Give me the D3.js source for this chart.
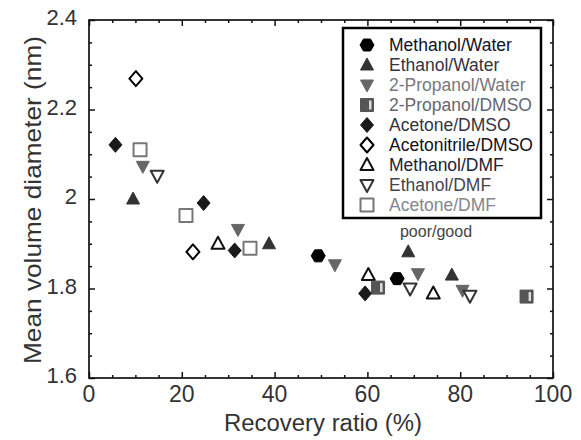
<!DOCTYPE html>
<html lang="en">
<head>
  <meta charset="UTF-8">
  <title>Mean volume diameter vs recovery ratio</title>
  <script src="https://d3js.org/d3.v7.min.js"></script>
  <style>
    body
    {
      margin: 0;
      padding: 0;
      background-color: #fff;
    }

    svg
    {
      display: block;
      font-family: Arial, "Liberation Sans", sans-serif;
    }
  </style>
</head>
<body>
  <svg width="581" height="440"></svg>
  <script>
    // legend order
    const seriesNames = ["Methanol/Water", "Ethanol/Water", "2-Propanol/Water", "2-Propanol/DMSO",
      "Acetone/DMSO", "Acetonitrile/DMSO", "Methanol/DMF", "Ethanol/DMF", "Acetone/DMF"];

    // [recovery ratio %, mean volume diameter nm]
    const methanolWater = [[49.4, 1.873], [66.4, 1.822]];
    const ethanolWater = [[9.5, 2.0], [38.8, 1.90], [68.8, 1.882], [78.2, 1.830]];
    const propanolWater = [[11.6, 2.073], [32.1, 1.932], [53.0, 1.853], [70.9, 1.833], [80.5, 1.796]];
    const propanolDmso = [[62.3, 1.802], [94.3, 1.782]];
    const acetoneDmso = [[5.7, 2.121], [24.7, 1.991], [31.4, 1.885], [59.5, 1.789]];
    const acetonitrileDmso = [[10.1, 2.269], [22.4, 1.882]];
    const methanolDmf = [[27.8, 1.90], [60.2, 1.830], [74.2, 1.789]];
    const ethanolDmf = [[14.7, 2.052], [69.2, 1.80], [82.1, 1.784]];
    const acetoneDmf = [[11.0, 2.110], [20.9, 1.963], [34.7, 1.890]];

    const xTicks = [0, 20, 40, 60, 80, 100];
    const yTicks = [1.6, 1.8, 2.0, 2.2, 2.4];
    const yTickLabels = ["1.6", "1.8", "2", "2.2", "2.4"];

    const series = [
      { name: "Acetone/DMF", data: acetoneDmf, shape: "square", color: "#777", open: true, text: "#858590" },
      { name: "Methanol/DMF", data: methanolDmf, shape: "up", color: "#111", open: true, text: "#222233" },
      { name: "2-Propanol/DMSO", data: propanolDmso, shape: "stripe", color: "#555", open: false, text: "#666670" },
      { name: "Acetone/DMSO", data: acetoneDmso, shape: "diamond", color: "#1a1a1a", open: false, text: "#333340" },
      { name: "Methanol/Water", data: methanolWater, shape: "hex", color: "#000", open: false, text: "#111122" },
      { name: "2-Propanol/Water", data: propanolWater, shape: "down", color: "#666", open: false, text: "#77777f" },
      { name: "Ethanol/Water", data: ethanolWater, shape: "up", color: "#333", open: false, text: "#333340" },
      { name: "Acetonitrile/DMSO", data: acetonitrileDmso, shape: "diamond", color: "#000", open: true, text: "#111118" },
      { name: "Ethanol/DMF", data: ethanolDmf, shape: "down", color: "#333", open: true, text: "#44444f" }
    ];

    const svg = d3.select("svg");
    const plotLeft = 89, plotRight = 553, plotTop = 20, plotBottom = 378;

    const x = d3.scaleLinear().domain([0, 100]).range([plotLeft, plotRight]);
    const y = d3.scaleLinear().domain([1.6, 2.4]).range([plotBottom, plotTop]);

    function shapePath(shape, cx, cy) {
      const p = d3.path();
      if (shape === "up") {
        p.moveTo(cx, cy - 7); p.lineTo(cx + 6.5, cy + 5); p.lineTo(cx - 6.5, cy + 5); p.closePath();
      } else if (shape === "down") {
        p.moveTo(cx - 6.5, cy - 5); p.lineTo(cx + 6.5, cy - 5); p.lineTo(cx, cy + 7); p.closePath();
      } else if (shape === "diamond") {
        p.moveTo(cx, cy - 7.5); p.lineTo(cx + 6.5, cy); p.lineTo(cx, cy + 7.5); p.lineTo(cx - 6.5, cy); p.closePath();
      } else if (shape === "hex") {
        p.moveTo(cx - 7, cy); p.lineTo(cx - 3.5, cy - 6); p.lineTo(cx + 3.5, cy - 6);
        p.lineTo(cx + 7, cy); p.lineTo(cx + 3.5, cy + 6); p.lineTo(cx - 3.5, cy + 6); p.closePath();
      } else {
        p.rect(cx - 6.5, cy - 6.5, 13, 13);
      }
      return p.toString();
    }

    function drawMarker(g, s, cx, cy) {
      g.append("path")
        .attr("d", shapePath(s.shape, cx, cy))
        .attr("fill", s.open ? "#fff" : s.color)
        .attr("stroke", s.color)
        .attr("stroke-width", s.open ? 2 : 1)
        .attr("stroke-linejoin", "round");
      if (s.shape === "stripe") {
        g.append("rect")
          .attr("x", cx + 2).attr("y", cy - 4.5)
          .attr("width", 2.5).attr("height", 9)
          .attr("fill", "#ddd");
      }
    }

    // frame ticks, all pointing inward
    const minorX = d3.range(0, 101, 5).filter(v => v % 20 !== 0);
    const minorY = d3.range(0, 17).map(i => 1.6 + i * 0.05).filter((v, i) => i % 4 !== 0);

    function axisGroup(axis, tx, ty) {
      const g = svg.append("g").attr("transform", `translate(${tx},${ty})`).call(axis);
      g.select(".domain").remove();
      g.selectAll("line").attr("stroke", "#111").attr("stroke-width", 1.5);
      return g;
    }

    axisGroup(d3.axisBottom(x).tickValues(xTicks).tickSize(-6).tickFormat(""), 0, plotBottom);
    axisGroup(d3.axisBottom(x).tickValues(minorX).tickSize(-3).tickFormat(""), 0, plotBottom);
    axisGroup(d3.axisTop(x).tickValues(xTicks).tickSize(-6).tickFormat(""), 0, plotTop);
    axisGroup(d3.axisTop(x).tickValues(minorX).tickSize(-3).tickFormat(""), 0, plotTop);
    axisGroup(d3.axisLeft(y).tickValues(yTicks).tickSize(-6).tickFormat(""), plotLeft, 0);
    axisGroup(d3.axisLeft(y).tickValues(minorY).tickSize(-3).tickFormat(""), plotLeft, 0);
    axisGroup(d3.axisRight(y).tickValues(yTicks).tickSize(-6).tickFormat(""), plotRight, 0);
    axisGroup(d3.axisRight(y).tickValues(minorY).tickSize(-3).tickFormat(""), plotRight, 0);

    svg.append("rect")
      .attr("x", plotLeft).attr("y", plotTop)
      .attr("width", plotRight - plotLeft).attr("height", plotBottom - plotTop)
      .attr("fill", "none").attr("stroke", "#111").attr("stroke-width", 1.7);

    // tick labels
    svg.append("g").selectAll("text")
      .data(xTicks).enter().append("text")
      .attr("x", d => x(d)).attr("y", plotBottom + 24)
      .attr("text-anchor", "middle")
      .attr("font-size", 23).attr("fill", "#333")
      .text(d => d);

    svg.append("g").selectAll("text")
      .data(yTicks).enter().append("text")
      .attr("x", plotLeft - 12).attr("y", d => y(d) + 5)
      .attr("text-anchor", "end")
      .attr("font-size", 22).attr("fill", "#333")
      .text((d, i) => yTickLabels[i]);

    svg.append("text")
      .attr("x", 323).attr("y", 431)
      .attr("text-anchor", "middle")
      .attr("font-size", 23).attr("fill", "#333")
      .attr("textLength", 198).attr("lengthAdjust", "spacingAndGlyphs")
      .text("Recovery ratio (%)");

    svg.append("text")
      .attr("transform", "translate(41,200) rotate(-90)")
      .attr("text-anchor", "middle")
      .attr("font-size", 24).attr("fill", "#333")
      .attr("textLength", 328).attr("lengthAdjust", "spacingAndGlyphs")
      .text("Mean volume diameter (nm)");

    svg.append("text")
      .attr("x", 436).attr("y", 237)
      .attr("text-anchor", "middle")
      .attr("font-size", 16).attr("fill", "#444")
      .text("poor/good");

    // points
    const points = svg.append("g");
    series.forEach(s => {
      s.data.forEach(d => drawMarker(points, s, x(d[0]), y(d[1])));
    });

    // legend
    const legend = svg.append("g");
    legend.append("rect")
      .attr("x", 343).attr("y", 28)
      .attr("width", 198).attr("height", 190)
      .attr("fill", "#fff").attr("stroke", "#000").attr("stroke-width", 2.5);

    seriesNames.forEach((name, i) => {
      const s = series.find(d => d.name === name);
      const cy = 45 + i * 20;
      drawMarker(legend, s, 367, cy);
      legend.append("text")
        .attr("x", 389).attr("y", cy + 6)
        .attr("font-size", 17.5).attr("fill", s.text)
        .text(name);
    });
  </script>
</body>
</html>
